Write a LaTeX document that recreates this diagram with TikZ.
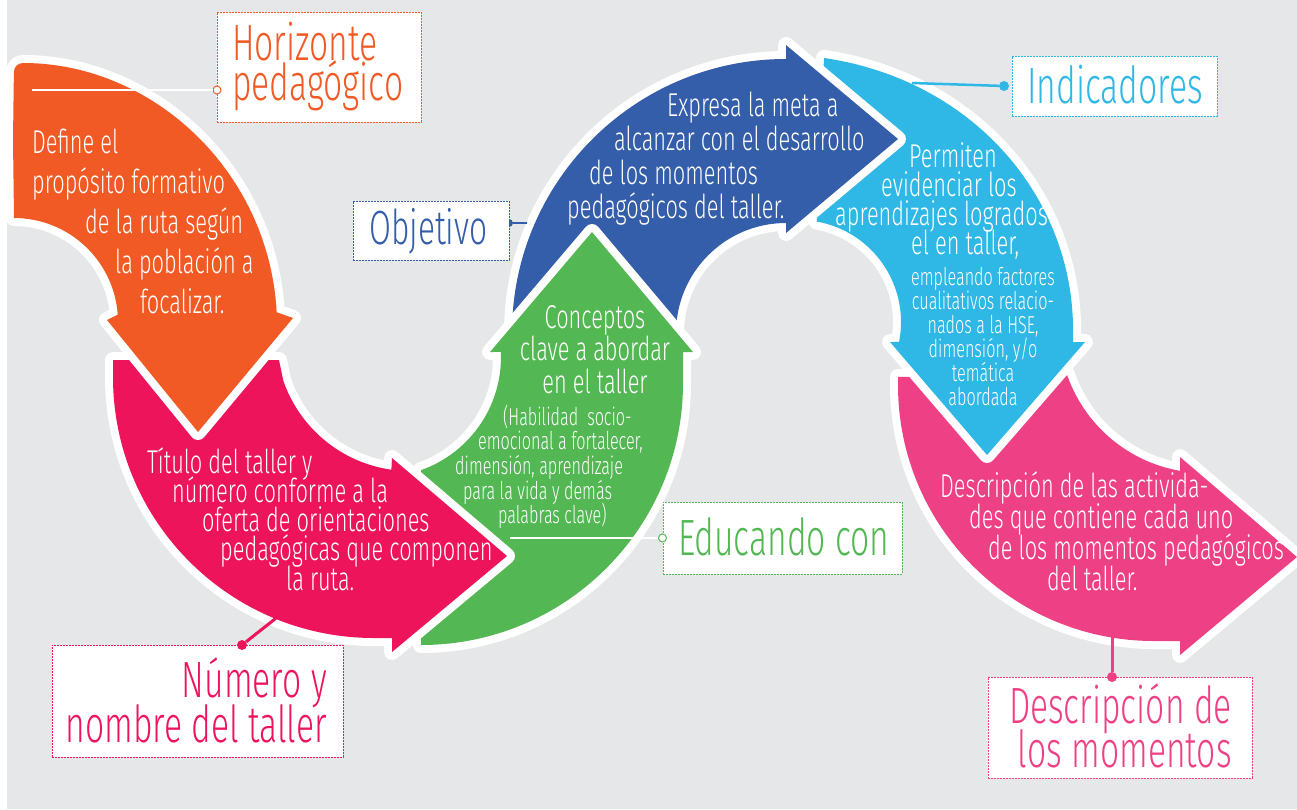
\documentclass[tikz,border=0pt]{standalone}
\usepackage{fontspec}
\setmainfont{Fira Sans Light}[FakeStretch=0.66]
\usetikzlibrary{calc}

\definecolor{bgc}{HTML}{E6E7E8}
\definecolor{orng}{HTML}{F15A24}
\definecolor{mgnt}{HTML}{ED145B}
\definecolor{grn}{HTML}{53B753}
\definecolor{blu}{HTML}{345DAA}
\definecolor{cyn}{HTML}{2FB7E5}
\definecolor{pnk}{HTML}{EE4085}

% stacked lines with a fixed pitch, baseline on the first line
\newcommand{\linesl}[1]{\vtop{\lineskiplimit=-\maxdimen\lineskip=0pt\halign{##\hfil\cr#1\crcr}}}
\newcommand{\linesc}[1]{\vtop{\lineskiplimit=-\maxdimen\lineskip=0pt\halign{\hfil##\hfil\cr#1\crcr}}}
\newcommand{\linesr}[1]{\vtop{\lineskiplimit=-\maxdimen\lineskip=0pt\halign{\hfil##\cr#1\crcr}}}

\begin{document}
\begin{tikzpicture}[x=1pt, y=-1pt,
    band/.style={preaction={draw=white, line width=16pt, line join=round}},
    lblbox/.style={rectangle, fill=white, line width=1pt, dash pattern=on 2pt off 1pt, inner sep=0pt},
    intext/.style={text=white, inner sep=0pt, anchor=base west},
    lbltext/.style={inner sep=0pt, anchor=base west, font={\fontsize{51}{40}\selectfont}},
    opendot/.style={circle, fill=white, line width=1pt, inner sep=0pt, minimum size=8pt},
    fulldot/.style={circle, inner sep=0pt, minimum size=10pt}]

    \useasboundingbox (0,0) rectangle (1297,809);
    \fill[bgc] (7,0) rectangle (1297,809);

    % Centres of the curved bands
    \coordinate (orngc) at (14,326);  \coordinate (orngi) at (14,322);
    \coordinate (mgntc) at (374,377); \coordinate (mgnti) at (410,337);
    \coordinate (grnc) at (421,383);  \coordinate (grni) at (381,357);
    \coordinate (bluc) at (786,333);
    \coordinate (cyntail) at (824,58); \coordinate (cyni) at (799,322);
    \coordinate (pnkc) at (1154,385); \coordinate (pnki) at (1205,327);

    % Arrows, last one first
    \path[band, fill=pnk] (898,377) -- ($(pnkc)+(180:256)$) arc[start angle=180, end angle=90, radius=256]
        -- (1180,641) -- (1180,655) -- (1297,557) -- (1180,457) -- ($(pnki)+(99.8:146)$)
        arc[start angle=99.8, end angle=161.6, radius=146] -- cycle;
    \path[band, fill=cyn] (cyntail) .. controls (975,80) and (1075,200) .. (1073,334)
        -- (1073,342) -- (1085,342) -- (987,455) -- (890,342) -- ($(cyni)+(11.3:102)$)
        arc[start angle=11.3, end angle=-80, radius=102] -- cycle;
    \path[band, fill=blu] ($(bluc)+(180:274)$) arc[start angle=180, end angle=270, radius=274]
        -- (786,45) -- (898,139) -- (786,233) -- ($(bluc)+(270:110)$)
        arc[start angle=270, end angle=180, radius=110] -- cycle;
    \path[band, fill=grn] ($(grnc)+(90:262)$) arc[start angle=90, end angle=0, radius=262]
        -- (683,352) -- (693,352) -- (592,232) -- (490,352) -- ($(grni)+(-2.4:120)$)
        arc[start angle=-2.4, end angle=70.5, radius=120] -- cycle;
    \path[band, fill=mgnt] (113,360) -- ($(mgntc)+(180:261)$) arc[start angle=180, end angle=90, radius=261]
        -- (392,638) -- (392,652) -- (507,556) -- (392,458) -- ($(mgnti)+(98:134)$)
        arc[start angle=98, end angle=161, radius=134] -- (279,360) -- cycle;
    \path[band, fill=orng] (13,140) [rounded corners=9pt] -- ($(orngc)+(-90:263)$) [sharp corners]
        arc[start angle=-90, end angle=-3, radius=263]
        -- (293,318) -- (198,432) -- (107,320) -- ($(orngi)+(-4:104)$)
        arc[start angle=-4, end angle=-90, radius=104] -- cycle;

    % Objetivo connector (dot half under its box)
    \coordinate (objend) at (527,223);
    \node[fulldot, fill=blu, minimum size=8pt] (objdot) at (509,223) {};
    \draw[blu, line width=2.5pt] (objdot) -- (objend);

    % Label boxes
    \node[lblbox, draw=orng, minimum width=204pt, minimum height=110pt] (horbox) at (319,67) {};
    \node[lblbox, draw=blu, minimum width=156pt, minimum height=59pt] (objbox) at (431,230.5) {};
    \node[lblbox, draw=grn, minimum width=239pt, minimum height=72pt] (edubox) at (782.5,538) {};
    \node[lblbox, draw=mgnt, minimum width=291pt, minimum height=112pt] (numbox) at (197.5,701) {};
    \node[lblbox, draw=cyn, minimum width=205pt, minimum height=60pt] (indbox) at (1114.5,86) {};
    \node[lblbox, draw=pnk, minimum width=264pt, minimum height=101pt] (desbox) at (1120,727.5) {};

    % Connectors
    \coordinate (horend) at (32,90);
    \node[opendot, draw=orng] (hordot) at (217,90) {};
    \draw[white, line width=1.2pt] (horend) -- (hordot);

    \coordinate (eduend) at (510,538);
    \node[opendot, draw=grn] (edudot) at (edubox.west) {};
    \draw[white, line width=1.2pt] (eduend) -- (edudot);

    \coordinate (numend) at (280,615);
    \node[fulldot, fill=mgnt] (numdot) at (242,645) {};
    \draw[mgnt, line width=3pt] (numdot) -- (numend);

    \coordinate (indend) at (912,83);
    \node[fulldot, fill=cyn] (inddot) at (1004,86) {};
    \draw[cyn, line width=2.5pt] (indend) -- (inddot);

    \coordinate (desend) at (1112,630);
    \node[fulldot, fill=pnk] (desdot) at (1112,677) {};
    \draw[pnk, line width=3pt] (desend) -- (desdot);

    % Label texts
    \node[lbltext, text=orng] (horlbl) at (232,60) {\linesl{Horizonte\cr pedagógico}};
    \node[lbltext, text=blu, font={\fontsize{48}{40}\selectfont}] (objlbl) at (369,244) {Objetivo};
    \node[lbltext, text=grn] (edulbl) at (678,555) {Educando con};
    \node[lbltext, text=mgnt, anchor=base east, font={\fontsize{51}{45}\selectfont}] (numlbl) at (327,697)
        {\linesr{Número y\cr nombre del taller}};
    \node[lbltext, text=cyn] (indlbl) at (1027,103) {Indicadores};
    \node[lbltext, text=pnk, anchor=base east, font={\fontsize{51}{44}\selectfont}] (deslbl) at (1232,723)
        {\linesr{Descripción de\cr los momentos}};

    % Texts inside the arrows
    \node[intext, font={\fontsize{33}{40}\selectfont}] (orngtxt) at (32,153)
        {\linesl{Define el\cr propósito formativo\cr \hskip53pt de la ruta según\cr
        \hskip83pt la población a\cr \hskip108pt focalizar.}};
    \node[intext, font={\fontsize{33}{29.3}\selectfont}] (mgnttxt) at (147,473)
        {\linesl{Título del taller y\cr \hskip25pt número conforme a la\cr \hskip55pt oferta de orientaciones\cr
        \hskip73pt pedagógicas que componen\cr \hskip139pt la ruta.}};
    \node[intext, anchor=base, font={\fontsize{33}{32.5}\selectfont}] (grntxt) at (595,328)
        {\linesc{Conceptos\cr clave a abordar\cr en el taller}};
    \node[intext, font={\fontsize{24.5}{24.7}\selectfont}] (grnsub) at (455,425)
        {\linesl{\hskip48pt (Habilidad\ \ socio-\cr \hskip23pt emocional a fortalecer,\cr dimensión, aprendizaje\cr
        \hskip8pt para la vida y demás\cr \hskip43pt palabras clave)}};
    \node[intext, font={\fontsize{33}{34}\selectfont}] (blutxt) at (567,116)
        {\linesl{\hskip100pt Expresa la meta a\cr \hskip47pt alcanzar con el desarrollo\cr
        \hskip22pt de los momentos\cr pedagógicos del taller.}};
    \node[intext, font={\fontsize{33}{29.3}\selectfont}] (cyntxt) at (835,167)
        {\linesl{\hskip74pt Permiten\cr \hskip46pt evidenciar los\cr aprendizajes logrados\cr \hskip76pt el en taller,}};
    \node[intext, anchor=base, font={\fontsize{24.5}{24}\selectfont}] (cynsub) at (983,285)
        {\linesc{empleando factores\cr cualitativos relacio-\cr nados a la HSE,\cr dimensión, y/o\cr temática\cr abordada}};
    \node[intext, font={\fontsize{33}{31}\selectfont}] (pnktxt) at (940,497)
        {\linesl{Descripción de las activida-\cr \hskip29pt des que contiene cada uno\cr
        \hskip48pt de los momentos pedagógicos\cr \hskip107pt del taller.}};
\end{tikzpicture}
\end{document}
